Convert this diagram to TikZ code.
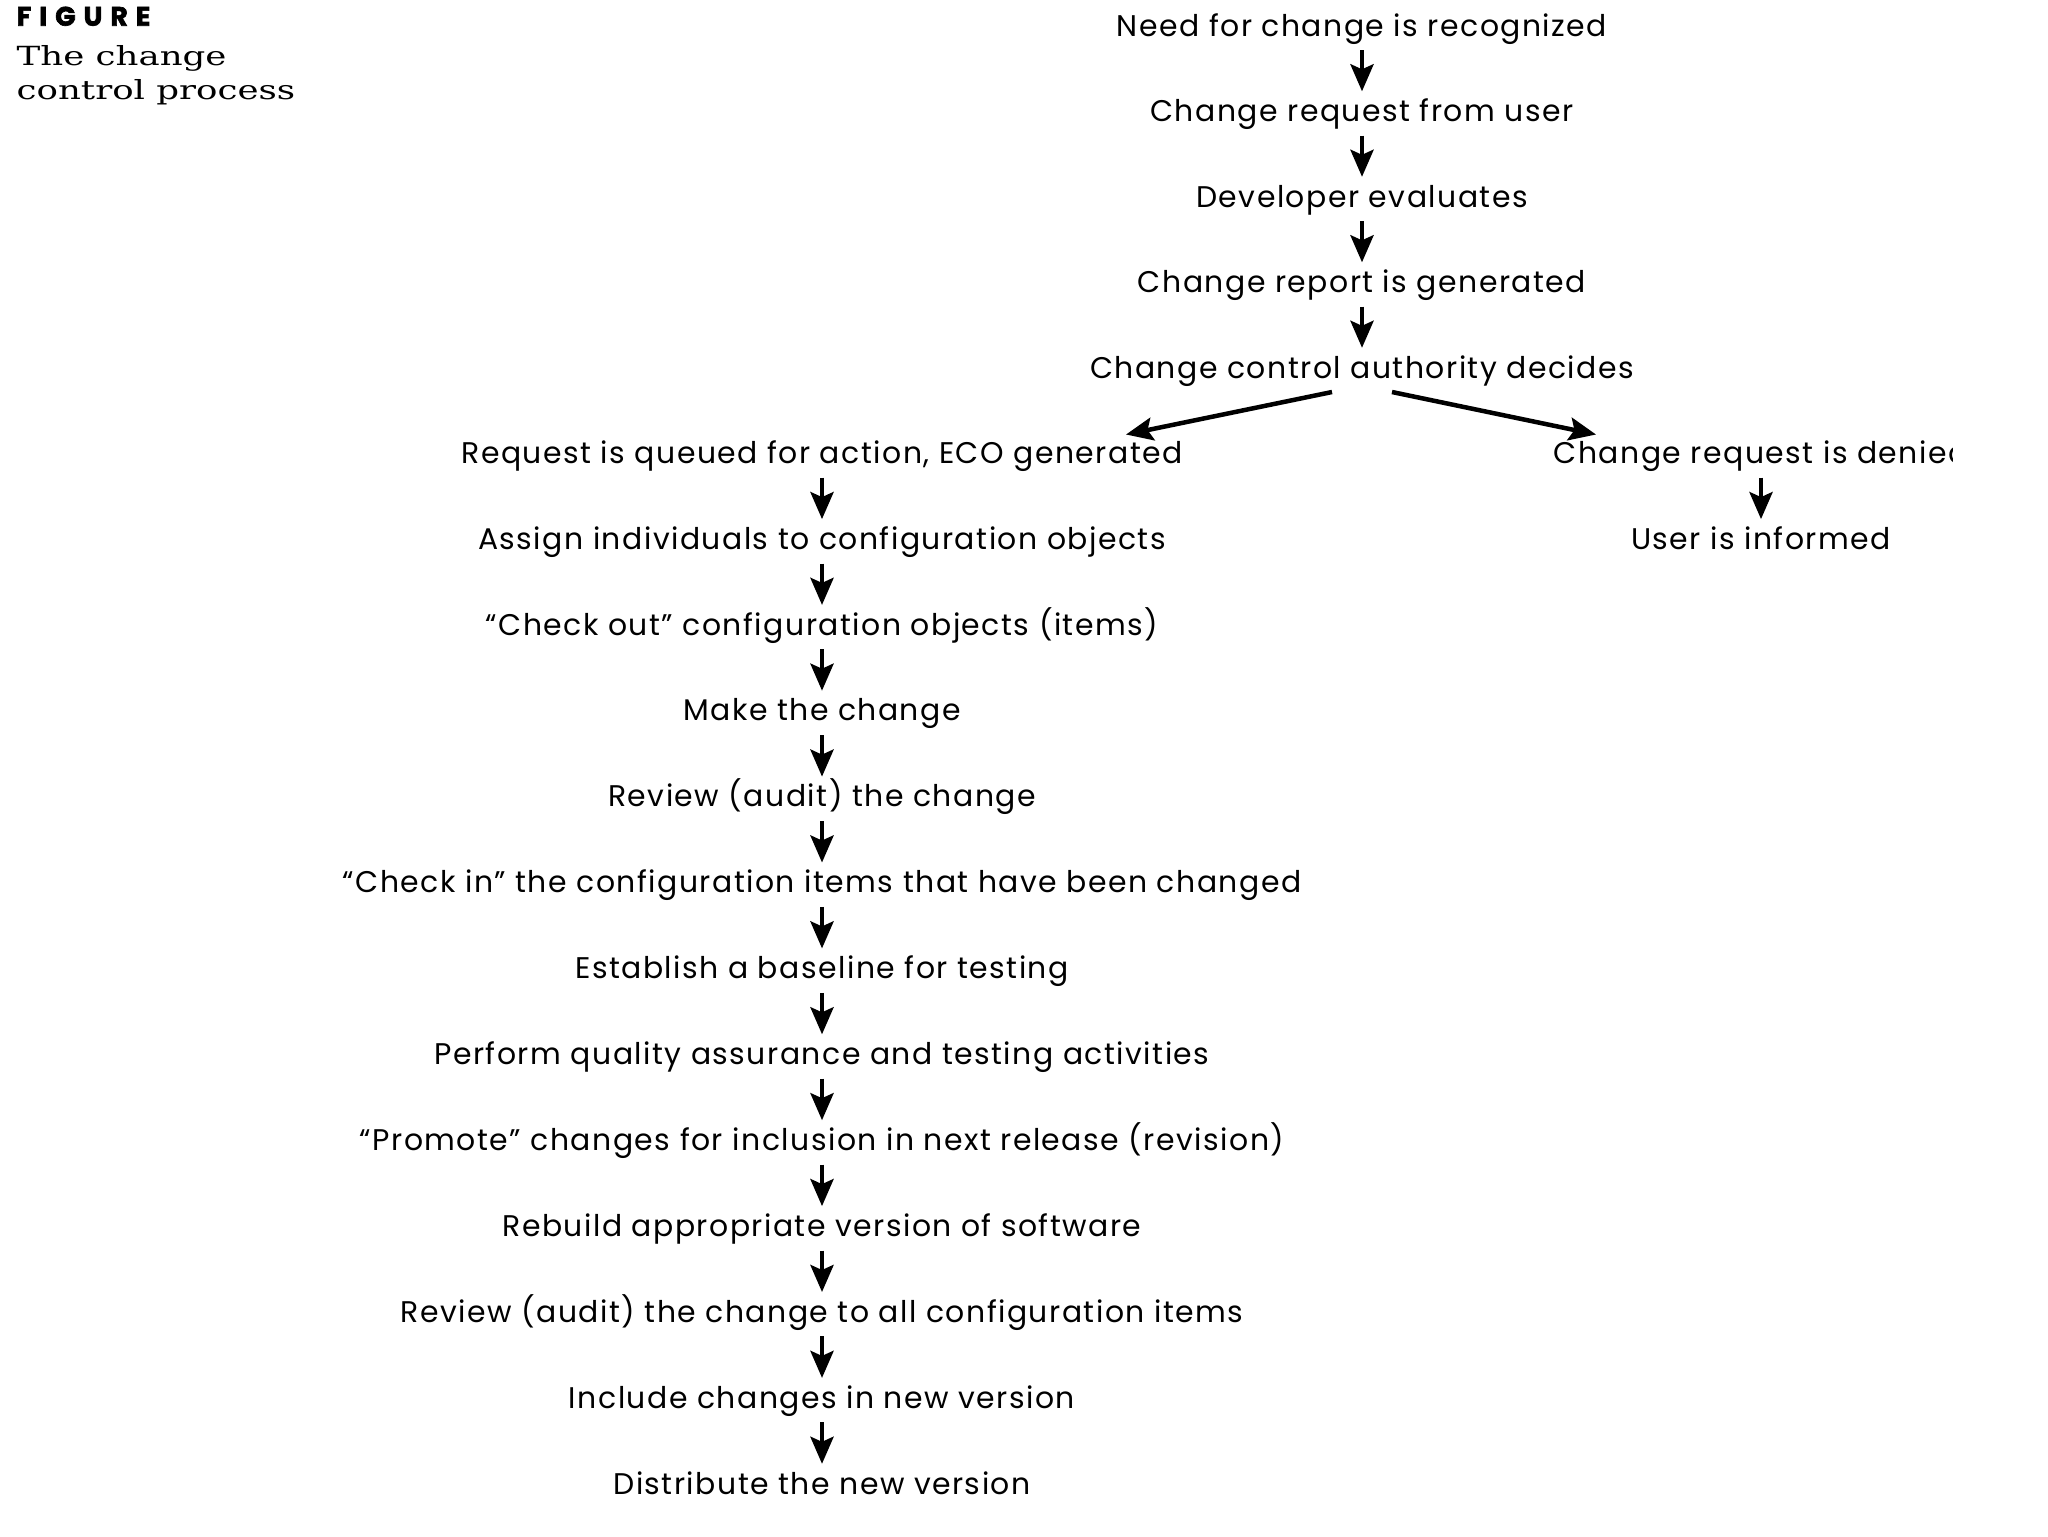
\documentclass[tikz,border=0pt]{standalone}
\usepackage{fontspec}
\setmainfont{Poppins}[LetterSpace=5]
\newfontfamily\capfont[FakeStretch=1.35]{DejaVu Serif}
\newfontfamily\figfont[LetterSpace=30,FakeBold=2.5]{Poppins}
\usetikzlibrary{arrows.meta,calc}
\begin{document}
\begin{tikzpicture}[x=0.1mm,y=-0.1mm,
  stp/.style={font=\fontsize{8.5}{10}\selectfont, text height=2.2mm, text depth=0.6mm,
    inner xsep=0pt, inner ysep=0.75mm, anchor=center},
  arr/.style={line width=0.45mm, -{Stealth[length=2.7mm,width=2.3mm,inset=0.5mm]}},
  captxt/.style={font=\capfont\fontsize{7.5}{9}\selectfont, anchor=base west, inner sep=0pt},
  figtxt/.style={font=\figfont\bfseries\fontsize{7.6}{9}\selectfont, anchor=base west, inner sep=0pt}]
\useasboundingbox (0,0) rectangle (2048,1536);
\fill[white] (0,0) rectangle (2048,1536);

% caption
\node[figtxt] (figlbl) at (16,25.7) {FIGURE};
\node[captxt] (cap1) at (16,65) {The change};
\node[captxt] (cap2) at (16,99) {control process};

% top column
\node[stp] (n0) at (1362,28) {Need for change is recognized};
\node[stp] (n1) at (1362,113.5) {Change request from user};
\node[stp] (n2) at (1362,199) {Developer evaluates};
\node[stp] (n3) at (1362,284.5) {Change report is generated};
\node[stp] (n4) at (1362,370) {Change control authority decides};

% left column
\node[stp] (l0) at (822,455.5) {Request is queued for action, ECO generated};
\node[stp] (l1) at (822,541.3) {Assign individuals to configuration objects};
\node[stp] (l2) at (822,627.1) {“Check out” configuration objects (items)};
\node[stp] (l3) at (822,712.9) {Make the change};
\node[stp] (l4) at (822,798.8) {Review (audit) the change};
\node[stp] (l5) at (822,884.7) {“Check in” the configuration items that have been changed};
\node[stp] (l6) at (822,970.6) {Establish a baseline for testing};
\node[stp] (l7) at (822,1056.5) {Perform quality assurance and testing activities};
\node[stp] (l8) at (822,1142.4) {“Promote” changes for inclusion in next release (revision)};
\node[stp] (l9) at (822,1228.3) {Rebuild appropriate version of software};
\node[stp] (l10) at (822,1314.2) {Review (audit) the change to all configuration items};
\node[stp] (l11) at (822,1400.1) {Include changes in new version};
\node[stp] (l12) at (822,1486.0) {Distribute the new version};

% right column
\begin{scope}
  \clip (0,0) rectangle (1952,1536);
  \node[stp] (r0) at (1761,455.5) {Change request is denied};
\end{scope}
\node[stp] (r1) at (1761,541.3) {User is informed};

% arrows
\foreach \a/\b in {n0/n1,n1/n2,n2/n3,n3/n4,
  l0/l1,l1/l2,l2/l3,l3/l4,l4/l5,l5/l6,l6/l7,l7/l8,l8/l9,l9/l10,l10/l11,l11/l12,r0/r1}
  \draw[arr] (\a.south) -- (\a.south |- \b.north);

\draw[arr] ($(n4.center)+(-30,22)$) -- ($(l0.center)+(304,-21)$);
\draw[arr] ($(n4.center)+(30,22)$) -- ($(r0.center)+(-165,-21)$);
\end{tikzpicture}
\end{document}
